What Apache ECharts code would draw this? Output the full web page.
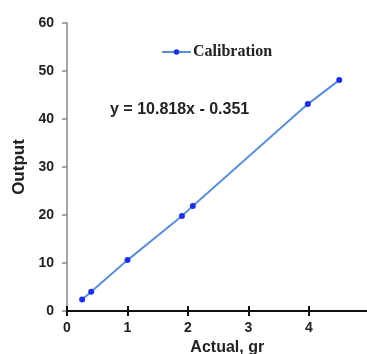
<!DOCTYPE html>
<html><head><meta charset="utf-8">
<script src="https://cdn.jsdelivr.net/npm/echarts@6/dist/echarts.min.js"></script>
<style>html,body{margin:0;padding:0;background:#fff}#c{width:367px;height:354px}</style>
</head><body><div id="c"></div>
<script>
var xValues = [0.25, 0.4, 1.0, 1.9, 2.08, 3.98, 4.5];
var yValues = [2.4, 4.0, 10.6, 19.8, 21.9, 43.1, 48.1];
var xTicks = [0, 1, 2, 3, 4, 5];
var yTicks = [0, 10, 20, 30, 40, 50, 60];
var seriesName = 'Calibration';
var equation = 'y = 10.818x - 0.351';

var data = xValues.map(function(x, i){ return [x, yValues[i]]; });
var chart = echarts.init(document.getElementById('c'));
var lblFont = {fontFamily:'Arial, Liberation Sans', fontWeight:'bold', fontSize:14, color:'#222'};
chart.setOption({
  animation:false,
  grid:{left:67, top:23, height:288, width:302.5, outerBoundsMode:'none', containLabel:false},
  legend:{left:156, top:39, itemWidth:29, itemHeight:7, itemGap:4, data:[seriesName],
    textStyle:{fontFamily:'Liberation Serif, Times New Roman', fontWeight:'bold', fontSize:16, color:'#222', padding:[0,0,0,-3]}},
  graphic:[{type:'text', left:110, top:102, style:{text:equation, font:'bold 16px Arial, Liberation Sans', fill:'#222'}}],
  xAxis:[{type:'value', min:xTicks[0], max:xTicks[xTicks.length-1], interval:1,
    name:'Actual, gr', nameLocation:'middle', nameGap:27,
    nameTextStyle:{fontFamily:'Arial, Liberation Sans', fontWeight:'bold', fontSize:16, color:'#222', padding:[0,0,0,18]},
    axisLine:{show:true, lineStyle:{color:'#111', width:2}},
    axisTick:{show:true, length:5, lineStyle:{color:'#111', width:2}},
    axisLabel:Object.assign({margin:10, formatter:function(v){return v===5?'':v;}}, lblFont),
    splitLine:{show:false}},
   {type:'value', min:xTicks[0], max:xTicks[xTicks.length-1], interval:1, position:'bottom',
    axisLine:{show:false}, axisTick:{show:true, inside:true, length:5, lineStyle:{color:'#111', width:2}},
    axisLabel:{show:false}, splitLine:{show:false}}],
  yAxis:{type:'value', min:yTicks[0], max:yTicks[yTicks.length-1], interval:10,
    name:'Output', nameLocation:'middle', nameGap:37,
    nameTextStyle:{fontFamily:'Arial, Liberation Sans', fontWeight:'bold', fontSize:17, color:'#222'},
    axisLine:{show:true, lineStyle:{color:'#888', width:1.5}},
    axisTick:{show:true, length:5, lineStyle:{color:'#888', width:1.5}},
    axisLabel:Object.assign({margin:13}, lblFont),
    splitLine:{show:false}},
  series:[{name:seriesName, type:'line', data:data, symbol:'circle', symbolSize:6,
    lineStyle:{color:'#5b8fd6', width:2},
    itemStyle:{color:'#1f2fe6'}}]
});
</script></body></html>
